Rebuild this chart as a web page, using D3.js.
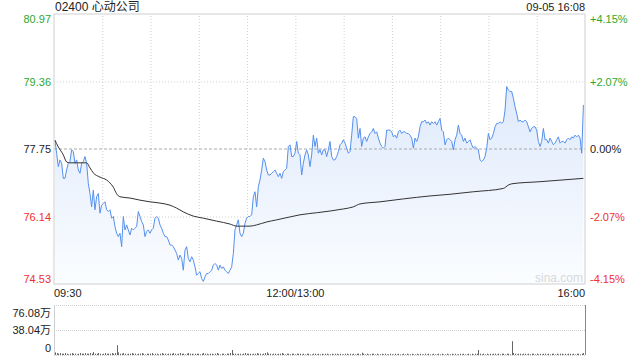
<!DOCTYPE html>
<html>
<head>
<meta charset="utf-8">
<script src="https://cdn.jsdelivr.net/npm/d3@7"></script>
<style>
body { margin: 0; background: #fff; }
svg text { font-family: "Liberation Sans", Arial, "Noto Sans CJK SC", sans-serif; font-size: 11px; }
</style>
</head>
<body>
<div id="chart"></div>
<script>
var stockTitle = "02400 心动公司",
    stamp = "09-05 16:08",
    prevClose = 77.75;

var priceTicks = [80.97, 79.36, 77.75, 76.14, 74.53];
var pctTicks = ["+4.15%", "+2.07%", "0.00%", "-2.07%", "-4.15%"];
var timeMinutes = [0, 150, 330];
var timeLabels = ["09:30", "12:00/13:00", "16:00"];
var volTicks = [76.08, 38.04, 0];
var volTickLabels = ["76.08万", "38.04万", "0"];

// price samples, evenly spaced over the session
var prices = [
  77.96,77.65,77.33,77.49,77.41,77.05,77.05,77.25,77.41,77.45,
  77.73,77.69,77.41,77.49,77.25,77.17,77.41,77.45,77.57,77.41,
  76.93,76.69,76.37,76.77,76.30,76.61,76.69,76.22,76.41,76.45,
  76.49,76.30,76.26,76.30,76.10,76.14,75.90,75.74,75.66,75.74,
  75.42,76.14,75.82,75.94,75.82,75.70,75.86,75.82,75.86,75.90,
  76.26,76.14,76.02,75.94,75.66,75.78,75.82,75.74,75.82,75.86,
  76.10,76.14,76.10,75.94,75.86,75.74,75.66,75.66,75.58,75.46,
  75.46,75.42,75.34,75.26,75.10,75.22,75.14,74.86,75.34,75.42,
  75.14,75.06,75.18,75.10,74.94,74.74,74.78,74.82,74.66,74.59,
  74.70,74.78,74.78,74.82,74.86,74.98,75.02,74.98,74.86,74.98,
  74.90,74.94,74.86,74.82,74.78,74.86,74.94,75.26,75.82,75.94,
  76.06,75.74,75.66,75.74,75.98,
  76.10,76.14,76.14,76.18,76.61,76.73,76.37,76.85,77.01,77.25,
  77.53,77.45,77.25,77.13,77.13,77.17,77.21,77.25,77.17,77.09,
  77.17,77.05,77.21,77.25,77.29,77.81,77.85,77.57,77.57,77.65,
  77.93,77.65,77.61,77.13,77.41,77.61,77.73,77.61,77.33,77.61,
  78.08,77.81,78.01,77.65,77.73,77.61,77.73,77.73,77.57,77.73,
  77.93,77.57,77.49,77.49,77.57,77.69,77.85,77.89,77.97,77.89,
  77.77,77.65,77.69,78.08,78.52,78.52,78.48,78.01,78.24,77.81,
  78.01,78.04,77.93,78.04,78.12,78.16,78.24,78.12,78.16,78.01,
  77.89,77.81,77.77,77.81,78.20,78.20,78.20,78.16,78.04,78.08,
  78.01,78.16,78.20,78.12,78.16,78.16,78.12,78.12,78.08,78.01,
  77.77,78.01,77.93,78.04,78.28,78.40,78.40,78.44,78.36,78.40,
  78.32,78.40,78.36,78.40,78.32,78.40,
  78.48,78.20,78.16,77.85,77.97,78.01,77.97,77.93,77.73,77.97,
  78.08,78.32,78.12,78.08,77.93,78.01,77.89,77.93,77.97,77.85,
  77.77,77.81,77.77,77.73,77.49,77.45,77.49,77.57,77.77,78.12,
  77.97,78.01,78.12,78.28,78.36,78.36,78.40,78.36,78.40,78.68,
  79.24,79.16,79.12,79.12,78.96,78.76,78.60,78.40,78.44,78.40,
  78.40,78.44,78.40,78.28,78.16,78.24,78.28,78.28,78.20,77.93,
  77.81,77.93,78.24,77.97,77.97,77.89,78.01,77.93,77.85,77.89,
  77.97,78.04,77.89,77.93,77.93,77.89,77.97,78.01,77.97,78.04,
  78.01,78.08,78.04,78.08,78.01,77.65,78.80
];

// average price line: sample index / value
var avgIdx  = [0,2,5,7,9,19,21,23,27,31,33,35,37,39,45,51,57,63,69,73,77,83,89,97,105,109,117,121,127,133,141,147,157,173,179,183,195,209,225,237,251,269,272,274,291,317];
var avgVals = [77.96,77.80,77.61,77.44,77.42,77.42,77.30,77.18,77.08,77.01,76.94,76.84,76.68,76.61,76.58,76.53,76.49,76.46,76.41,76.34,76.25,76.15,76.10,76.03,75.96,75.91,75.91,75.94,76.01,76.06,76.13,76.18,76.23,76.32,76.37,76.44,76.49,76.56,76.63,76.67,76.73,76.81,76.89,76.92,76.97,77.05];

// volume per sample, in 万
var volumes = [
  4,3,2,3,2,2,3,2,1,2,3,2,2,1,2,3,2,2,3,2,
  2,3,2,4.5,2,2,3,2,1,2,3,2,2,2,3,2,3,15,4,2,
  2,3,2,1,2,2,3,2,2,1,2,2,3,2,1,2,2,2,3,1,
  2,2,1,2,3,2,2,1,2,2,2,3,2,1,2,3,2,2,1,2,
  3,2,2,1,2,2,2,1,2,3,2,2,1,2,2,1,2,3,2,1,
  2,2,1,2,2,3,7.6,2,2,1,2,2,1,2,3,2,2,2,1,2,
  2,3,2,2,1,2,3,4,2,2,1,2,2,1,2,2,3,2,1,2,
  2,1,2,2,1,2,2,2,1,2,1,2,2,1,1,2,2,1,2,1,
  2,1,2,2,1,1,2,1,2,2,1,2,1,1,2,2,1,2,1,2,
  1,2,2,1,3.5,2,1,2,1,1,2,2,1,2,1,1,2,1,2,1,
  1,2,1,1,2,1,2,1,1,2,1,2,1,1,2,1,1,2,1,2,
  1,1,2,1,2,1,1,2,1,1,2,1,2,1,1,2,1,1,2,1,
  2,1,1,2,1,2,1,1,2,1,2,1,2,2,7.6,2,1,2,1,2,
  1,2,1,2,2,1,2,1,2,2,1,2,2,1,21,3,2,1,2,2,
  1,2,2,1,2,1,2,2,1,2,1,2,1,2,2,1,2,1,2,2,
  1,2,1,2,2,1,2,1,2,2,1,2,1,2,2,1,2,3
];

var margin = {top: 14, right: 55, bottom: 5, left: 54},
    width = 640 - margin.left - margin.right,
    height = 270,
    volTop = 291,
    volBottom = 341;

var green = "#2ea82e", red = "#f03030", blue = "#5590ef";

var svg = d3.select("#chart")
  .append("svg")
    .attr("width", 640)
    .attr("height", 360)
  .append("g")
    .attr("transform", "translate(" + margin.left + "," + margin.top + ")");

var x = d3.scaleLinear().domain([0, 330]).range([0, width]);
var sampleMin = d3.scaleLinear().domain([0, prices.length - 1]).range([0.6, 329]);
var y = d3.scaleLinear().domain([priceTicks[4], priceTicks[0]]).range([height, 0]);
var yv = d3.scaleLinear().domain([0, volTicks[0]]).range([volBottom, volTop]);

var px = function(i) { return x(sampleMin(i)); };

// gradient for the area under the price line
var grad = svg.append("defs").append("linearGradient")
    .attr("id", "areaFill")
    .attr("gradientUnits", "userSpaceOnUse")
    .attr("x1", 0).attr("y1", 0).attr("x2", 0).attr("y2", height);
grad.append("stop").attr("offset", "0%").attr("stop-color", "#d3e2fa");
grad.append("stop").attr("offset", "100%").attr("stop-color", "#fbfdff");

// vertical grid
svg.append("g")
  .attr("class", "grid")
  .attr("transform", "translate(0," + height + ")")
  .call(d3.axisBottom(x)
    .tickValues(d3.range(30, 330, 30))
    .tickSize(-height)
    .tickFormat(""))
  .call(function(g) { g.select(".domain").remove(); })
  .selectAll("line")
    .attr("stroke", "#d0d0d0")
    .attr("stroke-dasharray", "1,2");

// horizontal grid
svg.append("g")
  .call(d3.axisLeft(y)
    .tickValues([priceTicks[1], priceTicks[3]])
    .tickSize(-width)
    .tickFormat(""))
  .call(function(g) { g.select(".domain").remove(); })
  .selectAll("line")
    .attr("stroke", "#d0d0d0")
    .attr("stroke-dasharray", "1,2");

// area + price line
svg.append("path")
  .datum(prices)
  .attr("fill", "url(#areaFill)")
  .attr("d", d3.area()
    .x(function(d, i) { return px(i); })
    .y0(height)
    .y1(function(d) { return y(d); }));

svg.append("line")
  .attr("x1", 0).attr("x2", width)
  .attr("y1", y(prevClose)).attr("y2", y(prevClose))
  .attr("stroke", "#aaa")
  .attr("stroke-dasharray", "3,2");

svg.append("path")
  .datum(prices)
  .attr("fill", "none")
  .attr("stroke", blue)
  .attr("stroke-width", 1)
  .attr("d", d3.line()
    .x(function(d, i) { return px(i); })
    .y(function(d) { return y(d); }));

svg.append("path")
  .datum(avgIdx)
  .attr("fill", "none")
  .attr("stroke", "#333")
  .attr("stroke-width", 1)
  .attr("d", d3.line()
    .curve(d3.curveMonotoneX)
    .x(function(d) { return px(d); })
    .y(function(d, i) { return y(avgVals[i]); }));

// frame of the price chart
svg.append("rect")
  .attr("x", 0).attr("y", 0)
  .attr("width", width).attr("height", height)
  .attr("fill", "none")
  .attr("stroke", "#cfcfcf");

// left price labels
svg.selectAll(".pLab")
  .data(priceTicks)
  .enter()
  .append("text")
    .attr("x", -3)
    .attr("y", function(d, i) { return i == 0 ? y(d) + 9 : (i == 4 ? y(d) - 1 : y(d) + 4); })
    .attr("text-anchor", "end")
    .attr("fill", function(d) { return d > prevClose ? green : (d < prevClose ? red : "#222"); })
    .text(function(d) { return d.toFixed(2); });

// right percent labels
svg.selectAll(".rLab")
  .data(pctTicks)
  .enter()
  .append("text")
    .attr("x", width + 5)
    .attr("y", function(d, i) { return i == 0 ? y(priceTicks[i]) + 9 : (i == 4 ? y(priceTicks[i]) - 1 : y(priceTicks[i]) + 4); })
    .attr("fill", function(d, i) { return i < 2 ? green : (i > 2 ? red : "#222"); })
    .text(function(d) { return d; });

// time labels
svg.selectAll(".tLab")
  .data(timeLabels)
  .enter()
  .append("text")
    .attr("x", function(d, i) { return x(timeMinutes[i]); })
    .attr("y", height + 13)
    .attr("text-anchor", function(d, i) { return i == 0 ? "start" : (i == 1 ? "middle" : "end"); })
    .attr("fill", "#222")
    .text(function(d) { return d; });

// title and stamp
svg.append("text")
  .attr("x", 1)
  .attr("y", -3)
  .attr("fill", "#222")
  .style("font-size", "12px")
  .text(stockTitle);

svg.append("text")
  .attr("x", width)
  .attr("y", -3)
  .attr("text-anchor", "end")
  .attr("fill", "#222")
  .text(stamp);

svg.append("text")
  .attr("x", width - 2)
  .attr("y", height - 2)
  .attr("text-anchor", "end")
  .attr("fill", "#d8d8d8")
  .style("font-size", "12px")
  .text("sina.com");

// volume panel
svg.selectAll(".vGrid")
  .data(volTicks)
  .enter()
  .append("line")
    .attr("x1", 0).attr("x2", width)
    .attr("y1", function(d) { return yv(d) + 0.5; })
    .attr("y2", function(d) { return yv(d) + 0.5; })
    .attr("stroke", "#d0d0d0")
    .attr("stroke-dasharray", "1,1");

svg.append("line")
  .attr("x1", 0.5).attr("x2", 0.5)
  .attr("y1", volTop).attr("y2", volBottom)
  .attr("stroke", "#cfcfcf");
svg.append("line")
  .attr("x1", width + 0.5).attr("x2", width + 0.5)
  .attr("y1", volTop).attr("y2", volBottom)
  .attr("stroke", "#888");

svg.selectAll(".vol")
  .data(volumes)
  .enter()
  .append("rect")
    .attr("x", function(d, i) { return Math.round(px(i)); })
    .attr("y", function(d) { return yv(d); })
    .attr("width", 1)
    .attr("height", function(d) { return volBottom - yv(d); })
    .attr("fill", "#666");

svg.selectAll(".vLab")
  .data(volTickLabels)
  .enter()
  .append("text")
    .attr("x", -3)
    .attr("y", function(d, i) { return i == 0 ? yv(volTicks[i]) + 12 : (i == 2 ? yv(volTicks[i]) - 3 : yv(volTicks[i]) + 4); })
    .attr("text-anchor", "end")
    .attr("fill", "#222")
    .text(function(d) { return d; });
</script>
</body>
</html>
